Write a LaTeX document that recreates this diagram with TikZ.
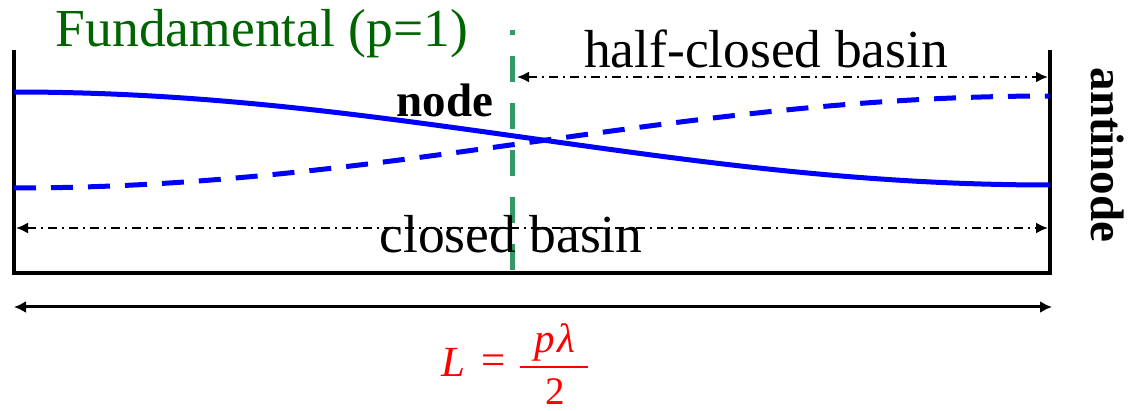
\documentclass[tikz,border=0pt]{standalone}
\usepackage{fontspec}
\IfFontExistsTF{LiberationSerif-Regular.ttf}{%
  \newfontfamily\tnr{LiberationSerif}[Extension=.ttf, UprightFont=*-Regular, BoldFont=*-Bold, ItalicFont=*-Italic, BoldItalicFont=*-BoldItalic]}{%
  \newfontfamily\tnr{Liberation Serif}}
\usetikzlibrary{arrows.meta}
\definecolor{fundgreen}{RGB}{0,100,0}
\definecolor{nodegreen}{RGB}{51,153,102}
\begin{document}
\begin{tikzpicture}[x=1pt,y=-1pt,
  wall/.style={line width=4.5pt, line cap=rect},
  wave/.style={blue, line width=5pt},
  dimline/.style={line width=2pt, dash pattern=on 9pt off 5pt on 2pt off 5pt, {Latex[length=12pt,width=11pt]}-{Latex[length=12pt,width=11pt]}},
  lenline/.style={line width=3pt, {Latex[length=12pt,width=12pt]}-{Latex[length=12pt,width=12pt]}},
  lbl/.style={inner sep=0pt, anchor=base, font=\tnr\fontsize{53.5}{60}\selectfont},
  bold/.style={inner sep=0pt, anchor=base, font=\tnr\fontsize{47}{54}\selectfont\bfseries},
  formula/.style={red, inner sep=0pt, anchor=base, font=\tnr\fontsize{43}{50}\selectfont}]
\useasboundingbox (0,0) rectangle (1130,411);
% basin
\coordinate (tl) at (14,52);
\coordinate (bl) at (14,273);
\coordinate (br) at (1050,273);
\coordinate (tr) at (1050,52);
\draw[wall] (tl) -- (bl) -- (br) -- (tr);
% waves
\draw[wave] plot[domain=14:1050, samples=80, smooth] (\x, {138.5 - 46.5*cos(0.173745*(\x-14))});
\draw[wave, dash pattern=on 22pt off 15pt] plot[domain=14:1050, samples=80, smooth] (\x, {142 + 46*cos(0.173745*(\x-14))});
% node line
\coordinate (gtop) at (512,30);
\coordinate (gbot) at (512,273);
\draw[nodegreen, line width=5pt, dash pattern=on 26pt off 21pt, dash phase=21pt] (gtop) -- (gbot);
% dimension arrows
\coordinate (hcl) at (517,77);
\coordinate (hcr) at (1048,77);
\draw[dimline] (hcl) -- (hcr);
\coordinate (cl) at (16,228);
\coordinate (cr) at (1048,228);
\draw[dimline] (cl) -- (cr);
\coordinate (Ll) at (14,307);
\coordinate (Lr) at (1052,307);
\draw[lenline] (Ll) -- (Lr);
% texts
\node[lbl, text=fundgreen] (fund) at (262,47) {Fundamental (p=1)};
\node[lbl] (half) at (766,68) {half-closed basin};
\node[lbl] (closed) at (511,253) {closed basin};
\node[bold] (nodetxt) at (445,117) {node};
\node[bold, rotate=-90] (anti) at (1091,155) {antinode};
% formula
\node[formula] (Lsym) at (453,377) {\itshape L};
\node[formula] (eqsign) at (494,375) {=};
\node[formula, font=\tnr\fontsize{41}{48}\selectfont] (num) at (555,353) {\itshape p\kern3ptλ};
\node[formula, font=\tnr\fontsize{39}{46}\selectfont] (den) at (555,405) {2};
\coordinate (barl) at (520,367);
\coordinate (barr) at (588,367);
\draw[red, line width=2.5pt] (barl) -- (barr);
\end{tikzpicture}
\end{document}
